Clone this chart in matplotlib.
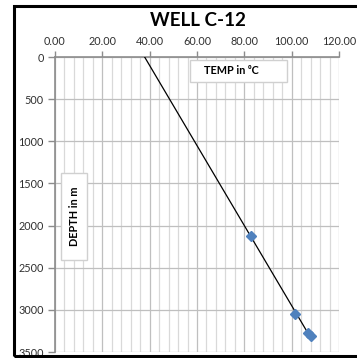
import numpy as np
import matplotlib
matplotlib.use("Agg")
import matplotlib.pyplot as plt
from matplotlib.patches import Rectangle
from matplotlib.ticker import MultipleLocator, FormatStrFormatter

# Temperature log, well C-12
temp_c = [82.8, 101.3, 106.9, 108.2]
depth_m = [2124, 3045, 3278, 3314]
title = "WELL C-12"
x_label = "TEMP in \u2070C"
y_label = "DEPTH in m"

W, H = 357, 358
fig = plt.figure(figsize=(W / 100, H / 100), dpi=100)
fig.patch.set_facecolor("white")

fam = ["Lato", "DejaVu Sans"]

# outer frame
fig.patches.append(Rectangle((14 / W, 1 - 356 / H), 1.2, (356 - 6) / H,
                             transform=fig.transFigure, fill=False,
                             edgecolor="black", linewidth=2.2, zorder=0))

ax = fig.add_axes([55 / W, 1 - 352 / H, (339 - 55) / W, (352 - 57) / H])
ax.set_xlim(0, 120)
ax.set_ylim(3500, 0)

ax.xaxis.set_major_locator(MultipleLocator(20))
ax.xaxis.set_minor_locator(MultipleLocator(4))
ax.yaxis.set_major_locator(MultipleLocator(500))
ax.xaxis.set_major_formatter(FormatStrFormatter("%.2f"))
ax.xaxis.tick_top()

ax.grid(which="major", axis="both", color="#bfbfbf", linewidth=0.9)
ax.grid(which="minor", axis="x", color="#d9d9d9", linewidth=0.9)
ax.set_axisbelow(True)

for s in ("bottom", "right"):
    ax.spines[s].set_visible(False)
for s in ("top", "left"):
    ax.spines[s].set_color("#8c8c8c")
    ax.spines[s].set_linewidth(1.2)

ax.tick_params(axis="x", which="major", direction="out", length=4, width=1,
               color="#8c8c8c", labelsize=7.8, pad=3, labelcolor="#303030")
ax.tick_params(axis="x", which="minor", length=0)
ax.tick_params(axis="y", which="major", direction="out", length=5, width=1,
               color="#8c8c8c", labelsize=7.8, pad=3, labelcolor="#303030")
for lab in ax.get_xticklabels() + ax.get_yticklabels():
    lab.set_family(fam)

# linear trend: depth as a function of temperature, extended back to surface
a, b = np.polyfit(temp_c, depth_m, 1)
t0 = -b / a
tx = np.array([t0, max(temp_c)])
ax.plot(tx, a * tx + b, color="black", linewidth=0.9, zorder=3)

ax.plot(temp_c, depth_m, linestyle="none", marker="D", markersize=5.6,
        color="#4f81bd", markeredgecolor="#4f81bd", zorder=4, clip_on=False)

fig.text(198 / W, 1 - 21 / H, title, ha="center", va="center",
         fontsize=13.5, fontweight="bold", family=fam, color="black")

fig.patches.append(Rectangle((190 / W, 1 - 82 / H), 97 / W, 22 / H,
                             transform=fig.transFigure, facecolor="white",
                             edgecolor="#d0d0d0", linewidth=1, zorder=5))
fig.text(231 / W, 1 - 71 / H, x_label, ha="center", va="center",
         fontsize=7.8, fontweight="bold", family=fam, zorder=6)

fig.patches.append(Rectangle((61 / W, 1 - 260 / H), 26 / W, 87 / H,
                             transform=fig.transFigure, facecolor="white",
                             edgecolor="#d0d0d0", linewidth=1, zorder=5))
fig.text(74 / W, 1 - 216 / H, y_label, ha="center", va="center",
         rotation=90, fontsize=7.8, fontweight="bold", family=fam, zorder=6)

fig.savefig("out.png", dpi=100)
